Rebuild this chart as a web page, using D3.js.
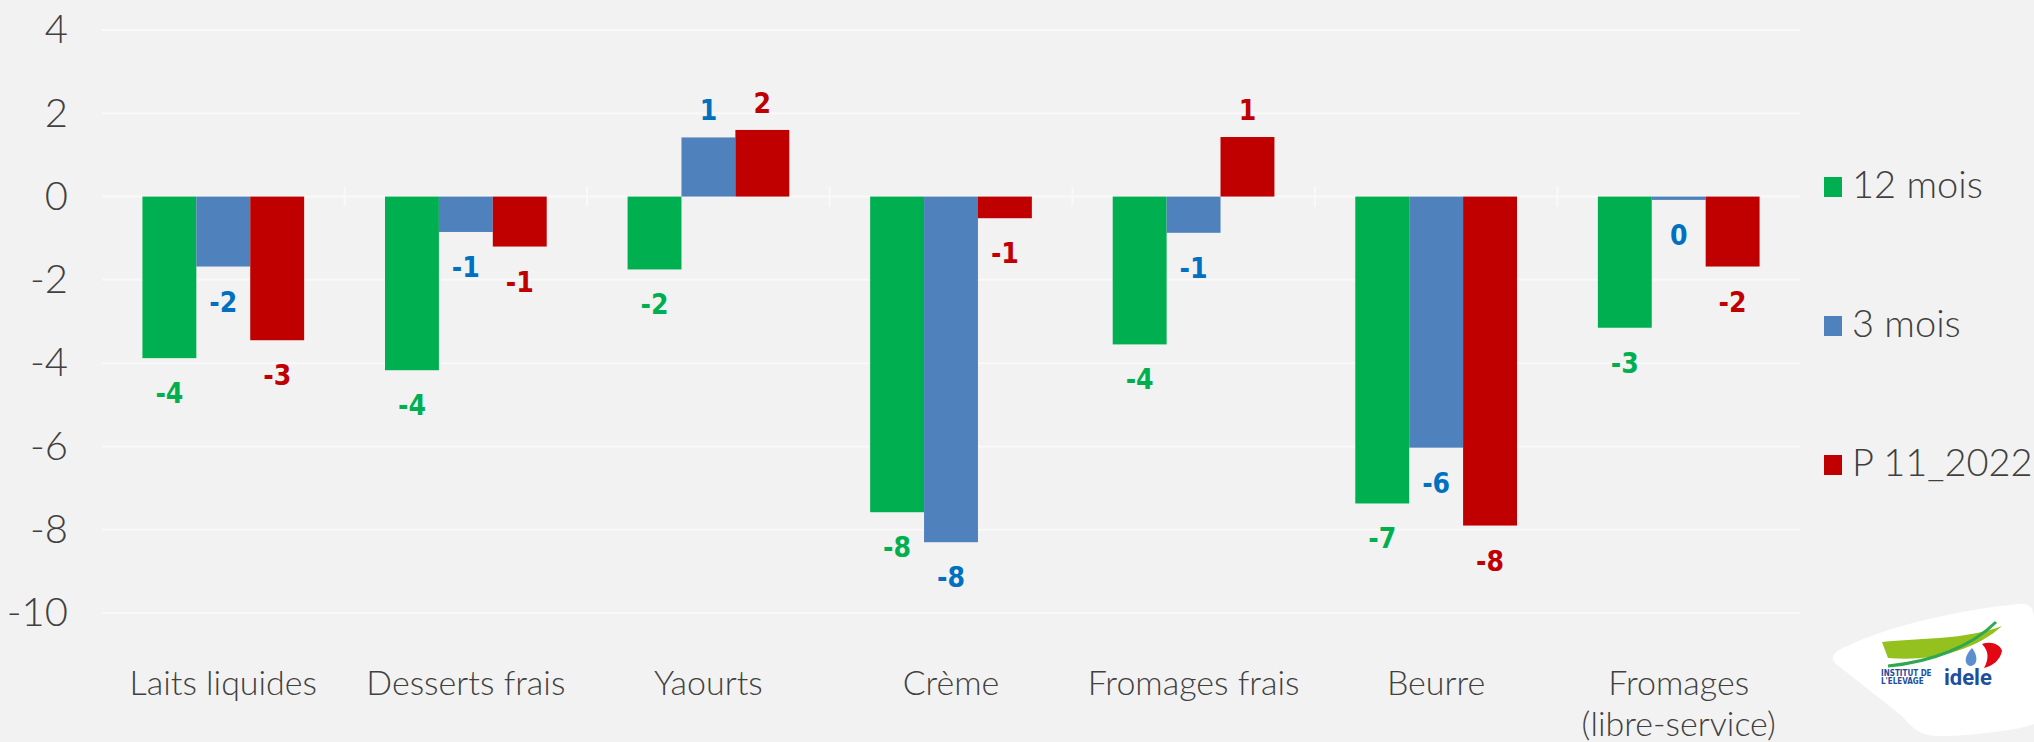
<!DOCTYPE html>
<html>
<head>
<meta charset="utf-8">
<script src="https://cdn.jsdelivr.net/npm/d3@7"></script>
<style>
  html, body { margin: 0; padding: 0; background: #f2f2f2; }
  svg { display: block; }
</style>
</head>
<body>
<svg id="chart" width="2034" height="742"></svg>
<script>
// chart data
var categories = ['Laits liquides', 'Desserts frais', 'Yaourts', 'Crème', 'Fromages frais', 'Beurre', 'Fromages (libre-service)'];
var categoryLines = [['Laits liquides'], ['Desserts frais'], ['Yaourts'], ['Crème'], ['Fromages frais'], ['Beurre'], ['Fromages', '(libre-service)']];
var seriesNames = ['12 mois', '3 mois', 'P 11_2022'];
var values12 = [-3.88, -4.17, -1.75, -7.58, -3.55, -7.37, -3.15];
var values3 = [-1.68, -0.85, 1.42, -8.3, -0.87, -6.03, -0.08];
var valuesP = [-3.45, -1.2, 1.6, -0.52, 1.43, -7.9, -1.68];
var yTicks = [4, 2, 0, -2, -4, -6, -8, -10];

var barColors = ['#00b050', '#4f81bd', '#c00000'];
var labelColors = ['#00b050', '#0070c0', '#c00000'];

var svg = d3.select('#chart');

var y = d3.scaleLinear().domain([-10, 4]).range([613, 30]);
var x0 = d3.scaleBand().domain(categories).range([102, 1800]).paddingInner(0).paddingOuter(0);
var x1 = d3.scaleBand().domain(seriesNames).range([0, x0.bandwidth()]).paddingInner(0).paddingOuter(0.75);

var seriesValues = [values12, values3, valuesP];

// gridlines
svg.append('g')
    .selectAll('line')
    .data(yTicks)
    .join('line')
        .attr('x1', 102)
        .attr('x2', 1800)
        .attr('y1', function(d) { return y(d); })
        .attr('y2', function(d) { return y(d); })
        .attr('stroke', '#f9f9f9')
        .attr('stroke-width', 2);

// category tick marks on the zero line
svg.append('g')
    .selectAll('line')
    .data(categories.slice(1))
    .join('line')
        .attr('x1', function(d) { return x0(d); })
        .attr('x2', function(d) { return x0(d); })
        .attr('y1', y(0) - 10)
        .attr('y2', y(0) + 10)
        .attr('stroke', '#f9f9f9')
        .attr('stroke-width', 2);

// y axis (plain hyphen for negatives, like the original)
var yAxis = svg.append('g')
    .attr('transform', 'translate(68,0)')
    .call(d3.axisLeft(y).tickValues(yTicks).tickSize(0).tickPadding(0)
        .tickFormat(function(d) { return String(d); }));
yAxis.select('.domain').remove();
yAxis.selectAll('text')
    .attr('font-family', 'Lato, sans-serif')
    .attr('font-weight', 300)
    .attr('font-size', 40)
    .attr('fill', '#404040');

// bars
var groups = svg.append('g')
    .selectAll('g')
    .data(categories)
    .join('g')
        .attr('transform', function(d) { return 'translate(' + x0(d) + ',0)'; });

seriesNames.forEach(function(name, s) {
    groups.append('rect')
        .attr('x', x1(name))
        .attr('width', x1.bandwidth())
        .attr('y', function(d, i) { return y(Math.max(0, seriesValues[s][i])); })
        .attr('height', function(d, i) { return Math.abs(y(seriesValues[s][i]) - y(0)); })
        .attr('fill', barColors[s]);

    // data labels
    groups.append('text')
        .attr('x', x1(name) + x1.bandwidth() / 2)
        .attr('y', function(d, i) {
            var v = seriesValues[s][i];
            return v < 0 ? y(v) + 45 : y(v) - 17;
        })
        .attr('text-anchor', 'middle')
        .attr('font-family', '"Liberation Sans Narrow", "DejaVu Sans Condensed", Roboto, sans-serif')
        .attr('font-weight', 'bold')
        .attr('font-size', 28)
        .attr('fill', labelColors[s])
        .text(function(d, i) {
            var r = Math.round(seriesValues[s][i]);
            return r === 0 ? '0' : String(r);
        });
});

// category labels, one text per line
var catLines = [];
categories.forEach(function(c, i) {
    categoryLines[i].forEach(function(line, k) {
        catLines.push({ cat: c, line: line, k: k });
    });
});

svg.append('g')
    .selectAll('text')
    .data(catLines)
    .join('text')
        .attr('x', function(d) { return x0(d.cat) + x0.bandwidth() / 2; })
        .attr('y', function(d) { return 695 + d.k * 41; })
        .attr('text-anchor', 'middle')
        .attr('font-family', 'Lato, sans-serif')
        .attr('font-weight', 300)
        .attr('font-size', 34)
        .attr('fill', '#404040')
        .text(function(d) { return d.line; });

// legend
var legend = svg.append('g')
    .selectAll('g')
    .data(seriesNames)
    .join('g')
        .attr('transform', function(d, i) { return 'translate(1824,' + (187 + i * 139) + ')'; });

legend.append('rect')
    .attr('x', 0)
    .attr('y', -10)
    .attr('width', 18)
    .attr('height', 20)
    .attr('fill', function(d, i) { return barColors[i]; });

legend.append('text')
    .attr('x', 28)
    .attr('y', 11)
    .attr('font-family', 'Lato, sans-serif')
    .attr('font-weight', 300)
    .attr('font-size', 38)
    .attr('fill', '#404040')
    .text(function(d) { return d; });

// logo
var logo = svg.append('g').attr('transform', 'translate(1820,600)');
logo.append('path')
    .attr('d', 'M30,45 C70,25 150,8 200,4 C212,3 214,10 214,20 L214,124 C200,130 150,136 120,136 C100,136 92,128 82,116 L16,64 C8,56 16,50 30,45 Z')
    .attr('fill', '#ffffff');
logo.append('path')
    .attr('d', 'M62,42 C100,38 145,40 182,26 C156,50 112,62 68,58 Z')
    .attr('fill', '#95c11f');
logo.append('path')
    .attr('d', 'M68,66 C112,62 152,46 176,22')
    .attr('fill', 'none')
    .attr('stroke', '#2fa84f')
    .attr('stroke-width', 3);
logo.append('path')
    .attr('d', 'M152,48 C145,55 143,64 150,66 C157,66 159,57 152,48 Z')
    .attr('fill', '#5b8fd0');
logo.append('path')
    .attr('d', 'M162,44 C171,41 180,44 182,51 C180,60 173,66 164,68 C169,59 169,51 162,44 Z')
    .attr('fill', '#e30613');
logo.append('text')
    .attr('x', 61)
    .attr('y', 76)
    .attr('font-family', '"DejaVu Sans Condensed", sans-serif')
    .attr('font-weight', 'bold')
    .attr('font-size', 8)
    .attr('fill', '#1d4f9c')
    .text('INSTITUT DE');
logo.append('text')
    .attr('x', 61)
    .attr('y', 84)
    .attr('font-family', '"DejaVu Sans Condensed", sans-serif')
    .attr('font-weight', 'bold')
    .attr('font-size', 8)
    .attr('fill', '#1d4f9c')
    .text("L'ELEVAGE");
logo.append('text')
    .attr('x', 124)
    .attr('y', 85)
    .attr('font-family', 'Roboto, sans-serif')
    .attr('font-weight', 'bold')
    .attr('font-size', 22)
    .attr('fill', '#1d4f9c')
    .text('idele');
</script>
</body>
</html>
